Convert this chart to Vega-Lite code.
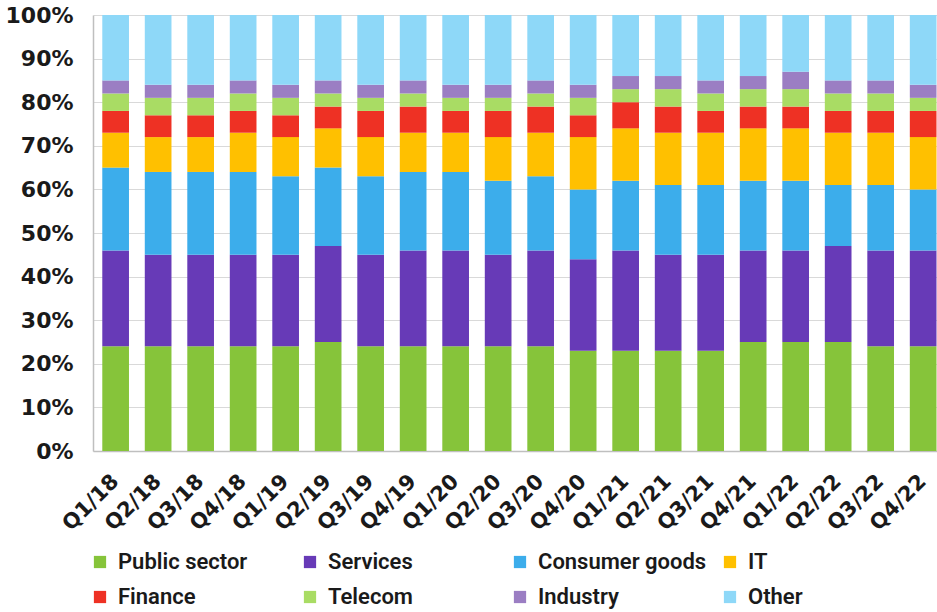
{
  "$schema": "https://vega.github.io/schema/vega-lite/v6.json",
  "width": 844,
  "height": 436,
  "autosize": {"type": "none"},
  "padding": {"left": 93, "top": 15, "right": 0, "bottom": 161},
  "background": "white",
  "config": {"view": {"stroke": null}},
  "datasets": {
    "shares": [
      {"quarter":"Q1/18","sector":"Public sector","value":24,"rank":1},{"quarter":"Q1/18","sector":"Services","value":22,"rank":2},{"quarter":"Q1/18","sector":"Consumer goods","value":19,"rank":3},{"quarter":"Q1/18","sector":"IT","value":8,"rank":4},{"quarter":"Q1/18","sector":"Finance","value":5,"rank":5},{"quarter":"Q1/18","sector":"Telecom","value":4,"rank":6},{"quarter":"Q1/18","sector":"Industry","value":3,"rank":7},{"quarter":"Q1/18","sector":"Other","value":15,"rank":8},
      {"quarter":"Q2/18","sector":"Public sector","value":24,"rank":1},{"quarter":"Q2/18","sector":"Services","value":21,"rank":2},{"quarter":"Q2/18","sector":"Consumer goods","value":19,"rank":3},{"quarter":"Q2/18","sector":"IT","value":8,"rank":4},{"quarter":"Q2/18","sector":"Finance","value":5,"rank":5},{"quarter":"Q2/18","sector":"Telecom","value":4,"rank":6},{"quarter":"Q2/18","sector":"Industry","value":3,"rank":7},{"quarter":"Q2/18","sector":"Other","value":16,"rank":8},
      {"quarter":"Q3/18","sector":"Public sector","value":24,"rank":1},{"quarter":"Q3/18","sector":"Services","value":21,"rank":2},{"quarter":"Q3/18","sector":"Consumer goods","value":19,"rank":3},{"quarter":"Q3/18","sector":"IT","value":8,"rank":4},{"quarter":"Q3/18","sector":"Finance","value":5,"rank":5},{"quarter":"Q3/18","sector":"Telecom","value":4,"rank":6},{"quarter":"Q3/18","sector":"Industry","value":3,"rank":7},{"quarter":"Q3/18","sector":"Other","value":16,"rank":8},
      {"quarter":"Q4/18","sector":"Public sector","value":24,"rank":1},{"quarter":"Q4/18","sector":"Services","value":21,"rank":2},{"quarter":"Q4/18","sector":"Consumer goods","value":19,"rank":3},{"quarter":"Q4/18","sector":"IT","value":9,"rank":4},{"quarter":"Q4/18","sector":"Finance","value":5,"rank":5},{"quarter":"Q4/18","sector":"Telecom","value":4,"rank":6},{"quarter":"Q4/18","sector":"Industry","value":3,"rank":7},{"quarter":"Q4/18","sector":"Other","value":15,"rank":8},
      {"quarter":"Q1/19","sector":"Public sector","value":24,"rank":1},{"quarter":"Q1/19","sector":"Services","value":21,"rank":2},{"quarter":"Q1/19","sector":"Consumer goods","value":18,"rank":3},{"quarter":"Q1/19","sector":"IT","value":9,"rank":4},{"quarter":"Q1/19","sector":"Finance","value":5,"rank":5},{"quarter":"Q1/19","sector":"Telecom","value":4,"rank":6},{"quarter":"Q1/19","sector":"Industry","value":3,"rank":7},{"quarter":"Q1/19","sector":"Other","value":16,"rank":8},
      {"quarter":"Q2/19","sector":"Public sector","value":25,"rank":1},{"quarter":"Q2/19","sector":"Services","value":22,"rank":2},{"quarter":"Q2/19","sector":"Consumer goods","value":18,"rank":3},{"quarter":"Q2/19","sector":"IT","value":9,"rank":4},{"quarter":"Q2/19","sector":"Finance","value":5,"rank":5},{"quarter":"Q2/19","sector":"Telecom","value":3,"rank":6},{"quarter":"Q2/19","sector":"Industry","value":3,"rank":7},{"quarter":"Q2/19","sector":"Other","value":15,"rank":8},
      {"quarter":"Q3/19","sector":"Public sector","value":24,"rank":1},{"quarter":"Q3/19","sector":"Services","value":21,"rank":2},{"quarter":"Q3/19","sector":"Consumer goods","value":18,"rank":3},{"quarter":"Q3/19","sector":"IT","value":9,"rank":4},{"quarter":"Q3/19","sector":"Finance","value":6,"rank":5},{"quarter":"Q3/19","sector":"Telecom","value":3,"rank":6},{"quarter":"Q3/19","sector":"Industry","value":3,"rank":7},{"quarter":"Q3/19","sector":"Other","value":16,"rank":8},
      {"quarter":"Q4/19","sector":"Public sector","value":24,"rank":1},{"quarter":"Q4/19","sector":"Services","value":22,"rank":2},{"quarter":"Q4/19","sector":"Consumer goods","value":18,"rank":3},{"quarter":"Q4/19","sector":"IT","value":9,"rank":4},{"quarter":"Q4/19","sector":"Finance","value":6,"rank":5},{"quarter":"Q4/19","sector":"Telecom","value":3,"rank":6},{"quarter":"Q4/19","sector":"Industry","value":3,"rank":7},{"quarter":"Q4/19","sector":"Other","value":15,"rank":8},
      {"quarter":"Q1/20","sector":"Public sector","value":24,"rank":1},{"quarter":"Q1/20","sector":"Services","value":22,"rank":2},{"quarter":"Q1/20","sector":"Consumer goods","value":18,"rank":3},{"quarter":"Q1/20","sector":"IT","value":9,"rank":4},{"quarter":"Q1/20","sector":"Finance","value":5,"rank":5},{"quarter":"Q1/20","sector":"Telecom","value":3,"rank":6},{"quarter":"Q1/20","sector":"Industry","value":3,"rank":7},{"quarter":"Q1/20","sector":"Other","value":16,"rank":8},
      {"quarter":"Q2/20","sector":"Public sector","value":24,"rank":1},{"quarter":"Q2/20","sector":"Services","value":21,"rank":2},{"quarter":"Q2/20","sector":"Consumer goods","value":17,"rank":3},{"quarter":"Q2/20","sector":"IT","value":10,"rank":4},{"quarter":"Q2/20","sector":"Finance","value":6,"rank":5},{"quarter":"Q2/20","sector":"Telecom","value":3,"rank":6},{"quarter":"Q2/20","sector":"Industry","value":3,"rank":7},{"quarter":"Q2/20","sector":"Other","value":16,"rank":8},
      {"quarter":"Q3/20","sector":"Public sector","value":24,"rank":1},{"quarter":"Q3/20","sector":"Services","value":22,"rank":2},{"quarter":"Q3/20","sector":"Consumer goods","value":17,"rank":3},{"quarter":"Q3/20","sector":"IT","value":10,"rank":4},{"quarter":"Q3/20","sector":"Finance","value":6,"rank":5},{"quarter":"Q3/20","sector":"Telecom","value":3,"rank":6},{"quarter":"Q3/20","sector":"Industry","value":3,"rank":7},{"quarter":"Q3/20","sector":"Other","value":15,"rank":8},
      {"quarter":"Q4/20","sector":"Public sector","value":23,"rank":1},{"quarter":"Q4/20","sector":"Services","value":21,"rank":2},{"quarter":"Q4/20","sector":"Consumer goods","value":16,"rank":3},{"quarter":"Q4/20","sector":"IT","value":12,"rank":4},{"quarter":"Q4/20","sector":"Finance","value":5,"rank":5},{"quarter":"Q4/20","sector":"Telecom","value":4,"rank":6},{"quarter":"Q4/20","sector":"Industry","value":3,"rank":7},{"quarter":"Q4/20","sector":"Other","value":16,"rank":8},
      {"quarter":"Q1/21","sector":"Public sector","value":23,"rank":1},{"quarter":"Q1/21","sector":"Services","value":23,"rank":2},{"quarter":"Q1/21","sector":"Consumer goods","value":16,"rank":3},{"quarter":"Q1/21","sector":"IT","value":12,"rank":4},{"quarter":"Q1/21","sector":"Finance","value":6,"rank":5},{"quarter":"Q1/21","sector":"Telecom","value":3,"rank":6},{"quarter":"Q1/21","sector":"Industry","value":3,"rank":7},{"quarter":"Q1/21","sector":"Other","value":14,"rank":8},
      {"quarter":"Q2/21","sector":"Public sector","value":23,"rank":1},{"quarter":"Q2/21","sector":"Services","value":22,"rank":2},{"quarter":"Q2/21","sector":"Consumer goods","value":16,"rank":3},{"quarter":"Q2/21","sector":"IT","value":12,"rank":4},{"quarter":"Q2/21","sector":"Finance","value":6,"rank":5},{"quarter":"Q2/21","sector":"Telecom","value":4,"rank":6},{"quarter":"Q2/21","sector":"Industry","value":3,"rank":7},{"quarter":"Q2/21","sector":"Other","value":14,"rank":8},
      {"quarter":"Q3/21","sector":"Public sector","value":23,"rank":1},{"quarter":"Q3/21","sector":"Services","value":22,"rank":2},{"quarter":"Q3/21","sector":"Consumer goods","value":16,"rank":3},{"quarter":"Q3/21","sector":"IT","value":12,"rank":4},{"quarter":"Q3/21","sector":"Finance","value":5,"rank":5},{"quarter":"Q3/21","sector":"Telecom","value":4,"rank":6},{"quarter":"Q3/21","sector":"Industry","value":3,"rank":7},{"quarter":"Q3/21","sector":"Other","value":15,"rank":8},
      {"quarter":"Q4/21","sector":"Public sector","value":25,"rank":1},{"quarter":"Q4/21","sector":"Services","value":21,"rank":2},{"quarter":"Q4/21","sector":"Consumer goods","value":16,"rank":3},{"quarter":"Q4/21","sector":"IT","value":12,"rank":4},{"quarter":"Q4/21","sector":"Finance","value":5,"rank":5},{"quarter":"Q4/21","sector":"Telecom","value":4,"rank":6},{"quarter":"Q4/21","sector":"Industry","value":3,"rank":7},{"quarter":"Q4/21","sector":"Other","value":14,"rank":8},
      {"quarter":"Q1/22","sector":"Public sector","value":25,"rank":1},{"quarter":"Q1/22","sector":"Services","value":21,"rank":2},{"quarter":"Q1/22","sector":"Consumer goods","value":16,"rank":3},{"quarter":"Q1/22","sector":"IT","value":12,"rank":4},{"quarter":"Q1/22","sector":"Finance","value":5,"rank":5},{"quarter":"Q1/22","sector":"Telecom","value":4,"rank":6},{"quarter":"Q1/22","sector":"Industry","value":4,"rank":7},{"quarter":"Q1/22","sector":"Other","value":13,"rank":8},
      {"quarter":"Q2/22","sector":"Public sector","value":25,"rank":1},{"quarter":"Q2/22","sector":"Services","value":22,"rank":2},{"quarter":"Q2/22","sector":"Consumer goods","value":14,"rank":3},{"quarter":"Q2/22","sector":"IT","value":12,"rank":4},{"quarter":"Q2/22","sector":"Finance","value":5,"rank":5},{"quarter":"Q2/22","sector":"Telecom","value":4,"rank":6},{"quarter":"Q2/22","sector":"Industry","value":3,"rank":7},{"quarter":"Q2/22","sector":"Other","value":15,"rank":8},
      {"quarter":"Q3/22","sector":"Public sector","value":24,"rank":1},{"quarter":"Q3/22","sector":"Services","value":22,"rank":2},{"quarter":"Q3/22","sector":"Consumer goods","value":15,"rank":3},{"quarter":"Q3/22","sector":"IT","value":12,"rank":4},{"quarter":"Q3/22","sector":"Finance","value":5,"rank":5},{"quarter":"Q3/22","sector":"Telecom","value":4,"rank":6},{"quarter":"Q3/22","sector":"Industry","value":3,"rank":7},{"quarter":"Q3/22","sector":"Other","value":15,"rank":8},
      {"quarter":"Q4/22","sector":"Public sector","value":24,"rank":1},{"quarter":"Q4/22","sector":"Services","value":22,"rank":2},{"quarter":"Q4/22","sector":"Consumer goods","value":14,"rank":3},{"quarter":"Q4/22","sector":"IT","value":12,"rank":4},{"quarter":"Q4/22","sector":"Finance","value":6,"rank":5},{"quarter":"Q4/22","sector":"Telecom","value":3,"rank":6},{"quarter":"Q4/22","sector":"Industry","value":3,"rank":7},{"quarter":"Q4/22","sector":"Other","value":16,"rank":8}
    ]
  },
  "data": {"name": "shares"},
  "mark": {"type": "bar"},
  "encoding": {
    "x": {
      "field": "quarter",
      "type": "nominal",
      "sort": null,
      "scale": {"paddingInner": 0.372, "paddingOuter": 0.115, "align": 0.95},
      "axis": {
        "title": null,
        "labelAngle": -45,
        "labelAlign": "right",
        "labelBaseline": "middle",
        "labelFont": "DejaVu Sans",
        "labelFontWeight": "bold",
        "labelFontSize": 21,
        "labelColor": "#1a1a1a",
        "ticks": false,
        "domainColor": "#bfbfbf",
        "domainWidth": 1.5,
        "labelPadding": 27,
        "grid": false
      }
    },
    "y": {
      "field": "value",
      "type": "quantitative",
      "stack": "normalize",
      "scale": {"domain": [0, 1]},
      "axis": {
        "title": null,
        "format": ".0%",
        "values": [0, 0.1, 0.2, 0.3, 0.4, 0.5, 0.6, 0.7, 0.8, 0.9, 1],
        "grid": true,
        "gridColor": "#d9d9d9",
        "domainColor": "#bfbfbf",
        "domainWidth": 1.5,
        "ticks": false,
        "labelPadding": 20,
        "labelFont": "DejaVu Sans",
        "labelFontWeight": "bold",
        "labelFontSize": 22,
        "labelColor": "#1a1a1a"
      }
    },
    "color": {
      "field": "sector",
      "type": "nominal",
      "scale": {
        "domain": ["Public sector", "Services", "Consumer goods", "IT", "Finance", "Telecom", "Industry", "Other"],
        "range": ["#86C43A", "#673AB7", "#3CADEB", "#FFC000", "#EE3124", "#A9DC64", "#9B7EC3", "#8ED8F8"]
      },
      "legend": {
        "title": null,
        "orient": "none",
        "legendX": -4,
        "legendY": 536,
        "direction": "horizontal",
        "columns": 4,
        "gridAlign": "all",
        "columnPadding": 12,
        "rowPadding": 13,
        "padding": 0,
        "symbolType": "square",
        "symbolSize": 150,
        "symbolStrokeWidth": 0,
        "labelFont": "Roboto",
        "labelFontSize": 22,
        "labelFontWeight": 600,
        "labelColor": "#1a1a1a",
        "labelOffset": 7,
        "labelLimit": 300
      }
    },
    "order": {"field": "rank", "type": "quantitative"}
  }
}
